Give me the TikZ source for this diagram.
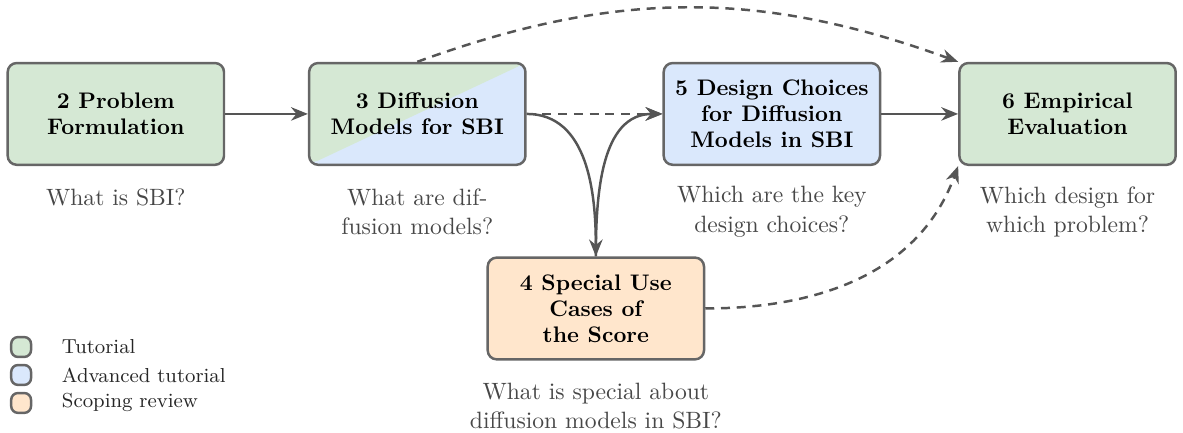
\documentclass[tikz,border=0pt]{standalone}
\usepackage{xcolor}
\usepackage{tikz}
\usetikzlibrary{arrows.meta,positioning}

\definecolor{tutgreen}{HTML}{D5E8D4}
\definecolor{tutblue}{HTML}{DAE8FC}
\definecolor{revorange}{HTML}{FFE6CC}
\definecolor{boxgray}{HTML}{666666}
\definecolor{arrowgray}{HTML}{555555}

\tikzset{
  box/.style = {draw=boxgray, line width=1.1pt, rounded corners=4pt,
                minimum width=3.38cm, minimum height=1.59cm, align=center,
                font=\bfseries\fontsize{10}{11.5}\selectfont},
  question/.style = {align=center, text=black!72,
                     font=\fontsize{10.5}{13}\selectfont},
  link/.style = {draw=arrowgray, line width=1.1pt,
                 -{Stealth[length=7.5pt, width=6pt]}},
  dashlink/.style = {link, dash pattern=on 4pt off 3pt},
  legendbox/.style = {draw=boxgray, line width=1.1pt, rounded corners=3pt,
                      minimum size=0.31cm, inner sep=0pt},
  legendtext/.style = {font=\small, text=black!85}
}

\begin{document}
\begin{tikzpicture}
\useasboundingbox (0,0) rectangle (18.484,6.75);

%Boxes
\node[box, fill=tutgreen] (n2) at (1.81,4.97) {2 Problem\\Formulation};
\node[box, fill=tutblue,
      path picture={\fill[tutgreen] (path picture bounding box.south west)
        -- (path picture bounding box.north west)
        -- (path picture bounding box.north east) -- cycle;}]
      (n3) at (6.52,4.97) {3 Diffusion\\Models for SBI};
\node[box, fill=revorange] (n4) at (9.31,1.93) {4 Special Use\\Cases of\\the Score};
\node[box, fill=tutblue] (n5) at (12.06,4.97) {5 Design Choices\\for Diffusion\\Models in SBI};
\node[box, fill=tutgreen] (n6) at (16.68,4.97) {6 Empirical\\Evaluation};

%Questions under the boxes
\node[question] (q2) at (1.81,3.67) {What is SBI?};
\node[question] (q3) at (6.52,3.44) {What are dif-\\fusion models?};
\node[question] (q4) at (9.31,0.40) {What is special about\\diffusion models in SBI?};
\node[question] (q5) at (12.06,3.44) {Which are the key\\design choices?};
\node[question] (q6) at (16.68,3.44) {Which design for\\which problem?};

%Solid arrows
\draw[link] (n2) -- (n3);
\draw[link] (n3.east) to[out=0, in=90] (n4.north);
\draw[link] (n4.north) to[out=90, in=180] (n5.west);
\draw[link] (n5) -- (n6);

%Dashed arrows
\draw[dashlink] (n3.east) -- (n5.west);
\draw[dashlink] (n3.north) to[bend left=20] (n6.north west);
\draw[dashlink] (n4.east) to[out=0, in=-110] (n6.south west);

%Legend
\foreach \c/\t [count=\i] in {tutgreen/Tutorial, tutblue/Advanced tutorial, revorange/Scoping review}
{
  \node[legendbox, fill=\c] (k\i) at (0.33,{1.765-0.437*\i}) {};
  \node[legendtext, right=0.34cm of k\i] (t\i) {\t};
}

\end{tikzpicture}
\end{document}
